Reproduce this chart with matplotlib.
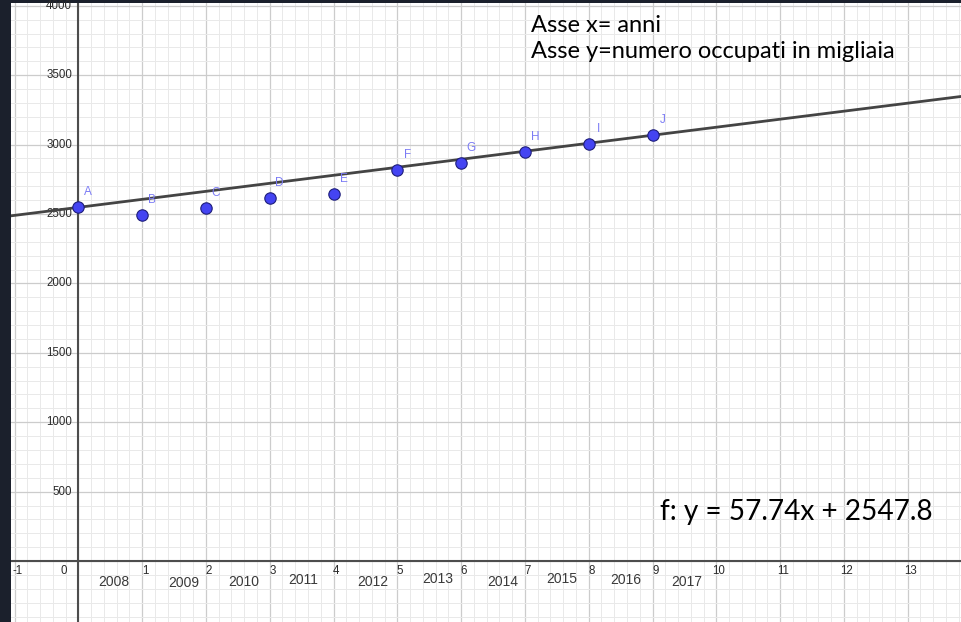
import numpy as np
import matplotlib.pyplot as plt
from matplotlib.ticker import MultipleLocator

# Data
x_vals = [0, 1, 2, 3, 4, 5, 6, 7, 8, 9]
occupati = [2547.8, 2495, 2540, 2613, 2645, 2817, 2871, 2944, 3006, 3067.5]
point_names = ["A", "B", "C", "D", "E", "F", "G", "H", "I", "J"]
years = ["2008", "2009", "2010", "2011", "2012", "2013", "2014", "2015", "2016", "2017"]
slope = 57.74
intercept = 2547.8

# where the year labels sit in the graphics view (layout)
year_x = [0.55, 1.65, 2.60, 3.53, 4.61, 5.63, 6.66, 7.58, 8.58, 9.54]
year_y = [-153, -158, -153, -136, -153, -132, -153, -129, -136, -153]

xlim = (-1.055, 13.835)
ylim = (-439, 4020)

fig = plt.figure(figsize=(9.61, 6.22), dpi=100, facecolor="#1b202c")
ax = fig.add_axes([11 / 961, 0, 950 / 961, 619 / 622])
ax.set_facecolor("white")
ax.set_xlim(*xlim)
ax.set_ylim(*ylim)
for s in ax.spines.values():
    s.set_visible(False)

# grid
ax.xaxis.set_major_locator(MultipleLocator(1))
ax.xaxis.set_minor_locator(MultipleLocator(0.2))
ax.yaxis.set_major_locator(MultipleLocator(500))
ax.yaxis.set_minor_locator(MultipleLocator(100))
ax.grid(which="minor", color="#e9e9e9", lw=0.7)
ax.grid(which="major", color="#cccccc", lw=0.9)
ax.tick_params(which="both", length=0, labelbottom=False, labelleft=False)
ax.set_axisbelow(True)

# axes lines
ax.axhline(0, color="#4d4d4d", lw=1.5, zorder=2)
ax.axvline(0, color="#4d4d4d", lw=1.5, zorder=2)

# tick labels, GeoGebra style
tick_font = dict(family="Liberation Sans", fontsize=8.3, color="#2a2a2a")
for i in range(-1, 14):
    if i == 0:
        ax.annotate("0", (0, 0), xytext=(-8, -7), textcoords="offset points",
                    ha="right", va="center", **tick_font)
    else:
        ax.annotate(str(i), (i, 0), xytext=(2, -7), textcoords="offset points",
                    ha="center", va="center", **tick_font)
for v in range(500, 4001, 500):
    ax.annotate(str(v), (0, v), xytext=(-4.5, 0), textcoords="offset points",
                ha="right", va="center", annotation_clip=True, **tick_font)

for yr, xx, yy in zip(years, year_x, year_y):
    ax.text(xx, yy, yr, ha="center", va="center", family="Liberation Sans",
            fontsize=10, color="#3a3a3a")

# fitted line f
xs = np.array(xlim)
ax.plot(xs, slope * xs + intercept, color="#444444", lw=2, zorder=3)

# points
ax.plot(x_vals, occupati, "o", ms=8.2, mfc="#4444f2", mec="#1e1e7a", mew=0.8, zorder=4)
for name, xx, yy in zip(point_names, x_vals, occupati):
    ax.annotate(name, (xx, yy), xytext=(7.2, 10.8), textcoords="offset points",
                ha="center", va="center", family="Liberation Sans", fontsize=8.5,
                color="#7b7bf5", zorder=5)

# text boxes
fig.text(531 / 961, 1 - 31.7 / 622, "Asse x= anni", family="Lato", fontsize=17,
         color="black", va="baseline", ha="left")
fig.text(531 / 961, 1 - 58.3 / 622, "Asse y=numero occupati in migliaia", family="Lato",
         fontsize=17, color="black", va="baseline", ha="left")
fig.text(660 / 961, 1 - 520 / 622, "f: y = 57.74x + 2547.8", family="Lato",
         fontsize=20.2, color="black", va="baseline", ha="left")

fig.savefig("out.png", dpi=100, facecolor=fig.get_facecolor())
